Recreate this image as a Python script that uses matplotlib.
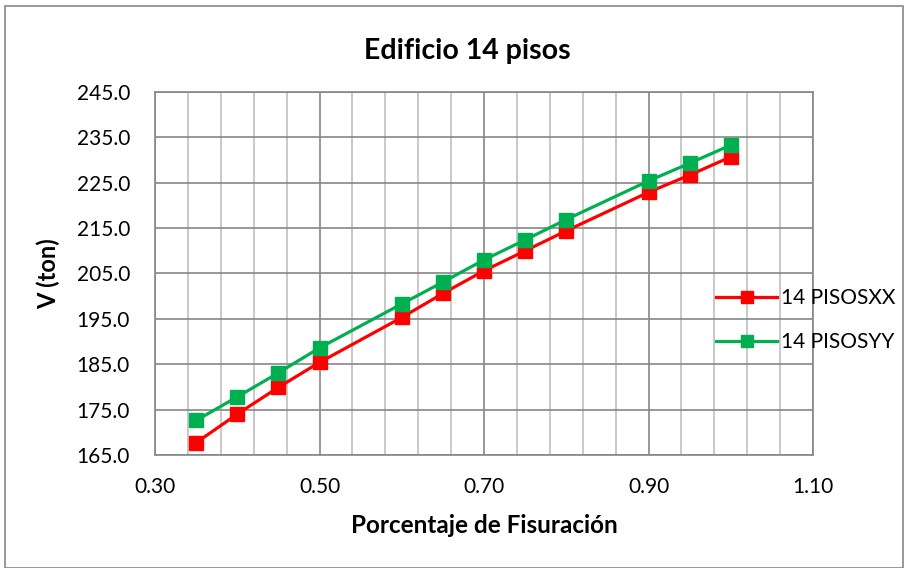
import numpy as np
import matplotlib.pyplot as plt
from matplotlib.ticker import FixedLocator, FormatStrFormatter
from matplotlib.patches import Rectangle

plt.rcParams['font.family'] = ['Lato', 'DejaVu Sans']

fisuracion = [0.35, 0.40, 0.45, 0.50, 0.60, 0.65, 0.70, 0.75, 0.80, 0.90, 0.95, 1.00]
v_xx = [167.7, 174.0, 179.9, 185.4, 195.3, 200.6, 205.6, 210.0, 214.4, 222.9, 226.7, 230.7]
v_yy = [172.6, 177.8, 183.1, 188.6, 198.3, 203.1, 208.0, 212.4, 216.9, 225.4, 229.3, 233.3]
series_names = ['14 PISOSXX', '14 PISOSYY']

x_ticks = [0.30, 0.50, 0.70, 0.90, 1.10]
y_ticks = [165, 175, 185, 195, 205, 215, 225, 235, 245]

fig = plt.figure(figsize=(9.08, 5.68), dpi=100)
ax = fig.add_axes([0.1707, 0.199, 0.7247, 0.639])

ax.plot(fisuracion, v_xx, color='#FF0000', lw=2.3, marker='s', ms=10, label=series_names[0], zorder=3)
ax.plot(fisuracion, v_yy, color='#00B050', lw=2.3, marker='s', ms=10, label=series_names[1], zorder=3)

ax.set_xlim(x_ticks[0], x_ticks[-1])
ax.set_ylim(y_ticks[0], y_ticks[-1])
ax.xaxis.set_major_locator(FixedLocator(x_ticks))
ax.xaxis.set_minor_locator(FixedLocator(np.arange(0.30, 1.1001, 0.04)))
ax.yaxis.set_major_locator(FixedLocator(y_ticks))
ax.xaxis.set_major_formatter(FormatStrFormatter('%.2f'))
ax.yaxis.set_major_formatter(FormatStrFormatter('%.1f'))
ax.grid(which='major', color='#868686', lw=1.2)
ax.grid(which='minor', axis='x', color='#BFBFBF', lw=1.2)
ax.set_axisbelow(True)
ax.tick_params(which='both', length=0, labelsize=15)
ax.tick_params(axis='x', pad=16)
ax.tick_params(axis='y', pad=18)
for s in ax.spines.values():
    s.set_color('#868686')
    s.set_linewidth(1.2)

ax.set_xlabel('Porcentaje de Fisuración', fontsize=17.5, fontweight='bold', labelpad=12)
ax.set_ylabel('V (ton)', fontsize=17, fontweight='bold', labelpad=12)
fig.text(0.5145, 0.910, 'Edificio 14 pisos', ha='center', va='center', fontsize=20.5, fontweight='bold')

fig.legend(loc='center left', bbox_to_anchor=(0.789, 0.436), frameon=False, fontsize=15,
           handlelength=2.9, labelspacing=1.15, handletextpad=0.2, borderpad=0, borderaxespad=0,
           markerscale=0.8)

fig.patches.append(Rectangle((0.006, 0.0), 0.988, 0.989, transform=fig.transFigure,
                             fill=False, edgecolor='#868686', lw=1.2))

fig.savefig('out.png', dpi=100)
